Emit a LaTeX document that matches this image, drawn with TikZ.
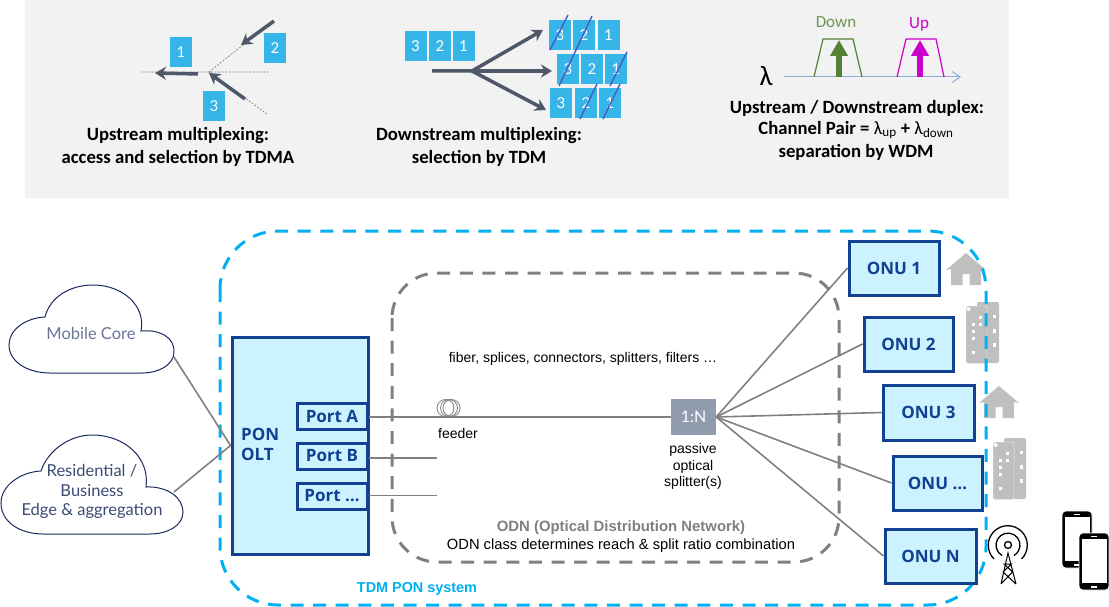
\documentclass[tikz,border=0pt]{standalone}
\usepackage{fontspec}
\setmainfont{Liberation Sans}
\newfontfamily\capfont{Carlito}
\newfontfamily\boxfont{Open Sans}
\newfontfamily\cloudfont{Lato}
\usetikzlibrary{arrows.meta,positioning}
\definecolor{panelgrey}{HTML}{F2F2F2}
\definecolor{slotblue}{HTML}{35B5E8}
\definecolor{slashblue}{HTML}{4A5CC4}
\definecolor{arrowgrey}{HTML}{4F5868}
\definecolor{tdmcyan}{HTML}{00B0F0}
\definecolor{odngrey}{HTML}{808080}
\definecolor{boxblue}{HTML}{124191}
\definecolor{boxfill}{HTML}{CCF2FF}
\definecolor{splitgrey}{HTML}{919CAE}
\definecolor{iconGrey}{HTML}{BFBFBF}
\definecolor{cloudnavy}{HTML}{1B2A5E}
\definecolor{downgreen}{HTML}{548235}
\definecolor{upmagenta}{HTML}{CC00CC}
\definecolor{axisblue}{HTML}{8FAADC}
\newcommand{\fsize}[1]{\fontsize{#1}{#1}\selectfont}
\newcommand{\housepic}[2]{\fill[iconGrey, shift={(#1,#2)}] (-20,17) -- (0,0) -- (20,17) -- (15,16) -- (15,32) -- (3.5,32) -- (3.5,21) -- (-3.5,21) -- (-3.5,32) -- (-15,32) -- (-15,16) -- cycle;}
\newcommand{\towerpic}[2]{\begin{scope}[shift={(#1,#2)}]
	\fill[iconGrey, rounded corners=2pt] (11,0) rectangle (33,61);
	\filldraw[iconGrey, draw=white, rounded corners=2pt] (0,4) rectangle (21,61.5);
	\fill[white] (2.5,7) circle (2pt);
	\foreach \wx/\wy in {14.3/15.3,28.3/14.7,7.3/22.3,14.3/22.3,7.3/29.7,28.3/29,7.3/36.7,28.3/43,7.3/50.7}
		\fill[white] (\wx-1.6,\wy-1.6) rectangle (\wx+1.6,\wy+1.6);
	\end{scope}}
\newcommand{\phonepic}[2]{\begin{scope}[shift={(#1,#2)}]
	\filldraw[black, draw=white, line width=0.6pt, rounded corners=4pt] (0,0) rectangle (30,57);
	\fill[white] (2.5,6) rectangle (27.5,50);
	\draw[white, line width=0.7pt] (12,3) -- (18,3);
	\fill[white] (12,52.5) rectangle (18,54.5);
	\end{scope}}
\tikzset{
	slot/.style={fill=slotblue, text=white, minimum width=22pt, minimum height=30pt, inner sep=0pt, font=\cloudfont\fsize{15}},
	slash/.style={draw=slashblue, line width=1.4pt},
	thinguide/.style={draw=odngrey, line width=0.7pt, dash pattern=on 2pt off 1.5pt},
	bigarrow/.style={draw=arrowgrey, line width=3.5pt, -{Stealth[length=11pt,width=13pt]}},
	caption/.style={font=\capfont\bfseries\fsize{18.7}, align=center, inner sep=0pt},
	oltbox/.style={draw=boxblue, fill=boxfill, line width=3pt, text=boxblue, inner sep=0pt, font=\boxfont\bfseries\fsize{17}},
	fibre/.style={draw=odngrey, line width=1.6pt},
	smalltext/.style={font=\fsize{14}, align=center, inner sep=0pt},
	cloudline/.style={draw=cloudnavy, line width=1pt, fill=white},
	cloudtext/.style={font=\cloudfont\fsize{16.5}, align=center, inner sep=0pt},
	coilring/.style={draw=odngrey, line width=0.8pt, circle, minimum size=17pt, inner sep=0pt},
	wave/.style={line width=1.3pt},
}
\begin{document}
\begin{tikzpicture}[x=1pt, y=-1pt]
	\useasboundingbox (0,0) rectangle (1109,607);
	\fill[panelgrey] (25,0) rectangle (1009,198);

	% upstream
	\draw (181,52.5) node [slot] (up1) {1};
	\draw (275,48.5) node [slot] (up2) {2};
	\draw (214,106) node [slot] (up3) {3};
	\coordinate (joinU) at (209,72);
	\coordinate (guideW) at (141,72);
	\coordinate (guideE) at (269,72);
	\coordinate (guideN) at (243,45);
	\coordinate (guideS) at (267,114);
	\draw [thinguide] (guideW) -- (guideE) (joinU) -- (guideN) (joinU) -- (guideS);
	\coordinate (tailA) at (198,74);
	\coordinate (headA) at (155,73);
	\coordinate (tailB) at (274,21);
	\coordinate (headB) at (241,45);
	\coordinate (tailC) at (245,99);
	\coordinate (headC) at (209,73);
	\draw [bigarrow] (tailA) -- (headA);
	\draw [bigarrow] (tailB) -- (headB);
	\draw [bigarrow] (tailC) -- (headC);
	\draw (178,136) node [caption] (capU) {Upstream multiplexing:};
	\draw (178,158) node [caption] (capUb) {access and selection by TDMA};

	% downstream
	\foreach \n/\px in {3/415.5,2/440,1/463.5}
		\draw (\px,46) node [slot] (dn\n) {\n};
	\foreach \n/\px in {3/560,2/584,1/608.5}
		\draw (\px,35) node [slot] (rowa\n) {\n};
	\foreach \n/\px in {3/568,2/592,1/616}
		\draw (\px,69) node [slot] (rowb\n) {\n};
	\foreach \n/\px in {3/561,2/586,1/610}
		\draw (\px,103.5) node [slot] (rowc\n) {\n};
	\coordinate (tailD) at (432,71);
	\coordinate (forkD) at (472,71);
	\coordinate (headD) at (543,30);
	\coordinate (headE) at (552,71);
	\coordinate (headF) at (546,110);
	\draw [bigarrow] (tailD) -- (forkD) -- (headD);
	\draw [bigarrow] (forkD) -- (headE);
	\draw [bigarrow] (forkD) -- (headF);
	\draw [slash] (550,50) -- (568,15);
	\draw [slash] (559,86) -- (592,16);
	\draw [slash] (610,86) -- (627,52);
	\draw [slash] (580,119) -- (597,84);
	\draw [slash] (603,119) -- (620,84);
	\draw (479,136) node [caption] (capD) {Downstream multiplexing:};
	\draw (479,158) node [caption] (capDb) {selection by TDM};

	% duplex
	\draw (766,76) node [font=\capfont\fsize{28}, inner sep=0pt] (lambda) {λ};
	\coordinate (axisL) at (784,77);
	\coordinate (axisR) at (961,77);
	\draw [draw=axisblue, line width=1pt, -{Straight Barb[length=8pt,width=11pt]}] (axisL) -- (axisR);
	\draw [draw=downgreen, line width=1.2pt] (814,77) -- (823,39) -- (853,39) -- (862,77);
	\draw [draw=upmagenta, line width=1.2pt] (897,77) -- (906,39) -- (936,39) -- (944,77);
	\coordinate (footG) at (839,77);
	\coordinate (tipG) at (839,40);
	\coordinate (footM) at (920,77);
	\coordinate (tipM) at (920,40);
	\draw [draw=downgreen, line width=6pt, -{Triangle[length=16pt,width=17pt]}] (footG) -- (tipG);
	\draw [draw=upmagenta, line width=6pt, -{Triangle[length=16pt,width=17pt]}] (footM) -- (tipM);
	\draw (836,22) node [font=\capfont\fsize{17}, text=downgreen!85!white, inner sep=0pt] (downlab) {Down};
	\draw (919,24) node [font=\capfont\fsize{17}, text=upmagenta, inner sep=0pt] (uplab) {Up};
	\draw (857,108) node [caption] (capW) {Upstream / Downstream duplex:};
	\draw (856,130) node [caption] (capWb) {Channel Pair = {\mdseries λ}\textsubscript{\mdseries up} + {\mdseries λ}\textsubscript{\mdseries down}};
	\draw (856,152) node [caption] (capWc) {separation by WDM};

	% premises icons
	\housepic{966}{253}
	\housepic{999}{386}
	\towerpic{966}{302}
	\towerpic{993}{438}
	\phonepic{1062}{511}
	\phonepic{1079}{533}

	% antenna
	\draw [wave] (1008,545) circle (3.5pt);
	\draw [wave] (1002,555.5) arc [start angle=240, end angle=-60, radius=12pt];
	\draw [wave] (994,559) arc [start angle=225, end angle=-45, radius=19.5pt];
	\draw [line width=1pt] (1001,584) -- (1008,553) -- (1016,584) (1001,584) -- (1012.5,572) -- (1004,564) -- (1011.5,564) -- (1003,572) -- (1016,584);

	% dashed outlines
	\draw [draw=tdmcyan, line width=3pt, dash pattern=on 13pt off 9.6pt, rounded corners=58pt] (220,231) rectangle (986,605);
	\draw [draw=odngrey, line width=3pt, dash pattern=on 13pt off 9.6pt, rounded corners=45pt] (392,273) rectangle (839,562);
	\draw (417,589) node [font=\bfseries\fsize{14.4}, text=tdmcyan, inner sep=0pt] (tdmlab) {TDM PON system};

	% clouds
	\draw [cloudline] (45,317) .. controls (50,297) and (70,285) .. (93,285) .. controls (122,285) and (146,305) .. (141,331) .. controls (160,329) and (175,338) .. (174,352) .. controls (174,365) and (158,373) .. (143,373) -- (50,373) .. controls (28,373) and (9,362) .. (9,345) .. controls (9,330) and (25,318) .. (45,317) -- cycle;
	\draw [cloudline] (41,471) .. controls (48,450) and (70,435) .. (92,435) .. controls (125,435) and (150,458) .. (146,487) .. controls (168,486) and (183,498) .. (183,512) .. controls (183,526) and (167,534) .. (150,534) -- (43,534) .. controls (20,534) and (1,522) .. (1,503) .. controls (1,486) and (20,472) .. (41,471) -- cycle;
	\draw (91,333) node [cloudtext, text=cloudnavy!65!white] (mobile) {Mobile Core};
	\draw (92,490) node [cloudtext, text=cloudnavy!85!white, text depth=0pt] (resid) {Residential /\\[3pt]Business\\[3pt]Edge \& aggregation};
	\coordinate (mobileEnd) at (174,357);
	\coordinate (residEnd) at (174,492);

	% OLT and ports
	\draw (300,445.5) node [oltbox, minimum width=136pt, minimum height=217pt] (olt) {};
	\draw (241,444.5) node [anchor=west, font=\boxfont\bfseries\fsize{17}, text=boxblue, align=left, inner sep=0pt] (oltlab) {PON\\[3.5pt]OLT};
	\draw (332,416) node [oltbox, minimum width=70pt, minimum height=26pt] (portA) {Port A};
	\draw (332,456) node [oltbox, minimum width=70pt, minimum height=26pt] (portB) {Port B};
	\draw (332,496) node [oltbox, minimum width=70pt, minimum height=26pt] (portC) {Port \dots};

	% splitter and onus
	\draw (693.5,417) node [fill=splitgrey, text=white, minimum width=45pt, minimum height=36pt, inner sep=0pt, font=\cloudfont\fsize{16}] (split) {1:N};
	\draw (894,268) node [oltbox, minimum width=90pt, minimum height=54pt] (onuA) {ONU 1};
	\draw (908.5,344) node [oltbox, minimum width=89pt, minimum height=54pt] (onuB) {ONU 2};
	\draw (928.5,412.5) node [oltbox, minimum width=91pt, minimum height=55pt] (onuC) {ONU 3};
	\draw (937.5,483) node [oltbox, minimum width=89pt, minimum height=54pt] (onuD) {ONU \dots};
	\draw (930.5,556) node [oltbox, minimum width=91pt, minimum height=54pt] (onuE) {ONU N};

	% feeder coil
	\draw (445.5,408) node [coilring] (coilA) {};
	\draw (449,408) node [coilring] (coilB) {};
	\draw (451.5,408) node [coilring] (coilC) {};
	\coordinate (stubB) at (437,458);
	\coordinate (stubC) at (437,495.5);

	\draw
		(mobileEnd) edge [fibre] (olt.west)
		(residEnd) edge [fibre] (olt.west)
		(split.west -| portA.east) edge [fibre] (split.west)
		(stubB -| portB.east) edge [fibre] (stubB)
		(stubC -| portC.east) edge [fibre] (stubC)
		(split.east) edge [fibre] (onuA.west)
		(split.east) edge [fibre] (onuB.west)
		(split.east) edge [fibre] (onuC.west)
		(split.east) edge [fibre] (onuD.west)
		(split.east) edge [fibre] (onuE.west)
	;

	% labels
	\draw (458,433) node [smalltext] (feedlab) {feeder};
	\draw (583,359) node [smalltext] (fiblab) {fiber, splices, connectors, splitters, filters \dots};
	\draw (693,466.5) node [smalltext] (splitlab) {passive\\[2.5pt]optical\\[2.5pt]splitter(s)};
	\draw (621,528) node [font=\bfseries\fsize{14.9}, text=odngrey, inner sep=0pt] (odnlab) {ODN (Optical Distribution Network)};
	\draw (621,546) node [font=\fsize{14.7}, inner sep=0pt] (odnnote) {ODN class determines reach \& split ratio combination};
\end{tikzpicture}
\end{document}
